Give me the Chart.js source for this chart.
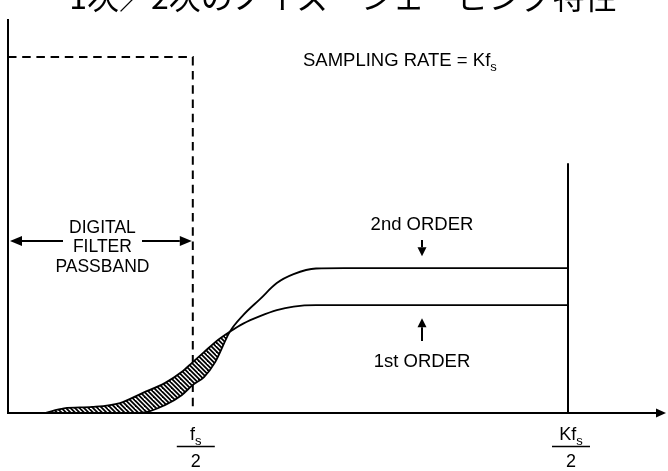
<!DOCTYPE html>
<html>
<head>
<meta charset="utf-8">
<script src="https://cdn.jsdelivr.net/npm/chart.js@4/dist/chart.umd.min.js"></script>
<style>
  html, body { margin: 0; padding: 0; background: #fff; }
  #wrap { width: 668px; height: 471px; }
</style>
</head>
<body>
<div id="wrap"><canvas id="c" width="668" height="471"></canvas></div>
<script>
// Frequency axis: 0 .. Kfs/2 mapped to 0 .. 100 (fs/2 sits at 33)
const freq        = [6.6, 10, 15, 20, 24, 28, 31, 33, 35, 37, 39.6, 42, 45, 48, 51, 55, 60, 100];
// Quantization noise spectral density of each modulator
const firstOrder  = [0, 1.3, 1.7, 2.8, 5.6, 8.4, 11.5, 14.3, 17.1, 19.9, 22.8, 25.1, 27.2, 28.9, 29.9, 30.3, 30.3, 30.3];
const secondOrder = [0, 0, 0, 0, 0.1, 2.2, 5.0, 7.9, 10.1, 14.3, 22.8, 27.5, 32.0, 36.5, 39.0, 40.6, 40.7, 40.7];
// Digital filter passband outline (dashed)
const passbandX = [0, 33, 33];
const passbandY = [100, 100, 0];
// Marker at Kfs/2
const halfRateX = [100, 100];
const halfRateY = [0, 70.2];
// Axis extents
const xMax = 117.5;
const yMax = 110.7;
// Frequency tick labels (fractions)
const tickValues = [33, 100];
const tickNumerators = ['f', 'Kf'];
const tickSubscript = 's';
const tickDenominator = '2';

const LATIN = '"Liberation Sans", Arial, Helvetica, sans-serif';

// diagonal "\" hatching, two stripes per 9px tile
function makeHatch() {
  const n = 9;
  const t = document.createElement('canvas');
  t.width = n; t.height = n;
  const g = t.getContext('2d');
  g.fillStyle = '#fff';
  g.fillRect(0, 0, n, n);
  g.strokeStyle = '#000';
  g.lineWidth = 1.75;
  for (let k = -2 * n; k <= 2 * n; k += n / 2) {
    g.beginPath();
    g.moveTo(k - 1, -1);
    g.lineTo(k + n + 1, n + 1);
    g.stroke();
  }
  return g.createPattern(t, 'repeat');
}

function pts(xs, ys) { return xs.map((x, i) => ({ x: x, y: ys[i] })); }

function arrow(ctx, x1, y1, x2, y2, len, half, lw) {
  const a = Math.atan2(y2 - y1, x2 - x1);
  const bx = x2 - len * Math.cos(a), by = y2 - len * Math.sin(a);
  ctx.beginPath();
  ctx.lineWidth = lw;
  ctx.moveTo(x1, y1);
  ctx.lineTo(bx, by);
  ctx.stroke();
  ctx.beginPath();
  ctx.moveTo(x2, y2);
  ctx.lineTo(bx + half * Math.sin(a), by - half * Math.cos(a));
  ctx.lineTo(bx - half * Math.sin(a), by + half * Math.cos(a));
  ctx.closePath();
  ctx.fill();
}

function textWithSub(ctx, main, sub, x, y, size, align) {
  ctx.font = size + 'px ' + LATIN;
  const wMain = ctx.measureText(main).width;
  ctx.font = Math.round(size * 0.7) + 'px ' + LATIN;
  const wSub = ctx.measureText(sub).width;
  const total = wMain + wSub;
  let left = x;
  if (align === 'center') left = x - total / 2;
  ctx.textAlign = 'left';
  ctx.textBaseline = 'alphabetic';
  ctx.font = size + 'px ' + LATIN;
  ctx.fillText(main, left, y);
  ctx.font = Math.round(size * 0.7) + 'px ' + LATIN;
  ctx.fillText(sub, left + wMain, y + size * 0.25);
}

const decor = {
  id: 'decor',
  afterDatasetsDraw(chart) {
    const { ctx } = chart;
    const xs = chart.scales.x, ys = chart.scales.y;
    const x0 = xs.getPixelForValue(0), y0 = ys.getPixelForValue(0);
    const top = ys.getPixelForValue(yMax);
    const right = xs.getPixelForValue(xMax);
    ctx.save();
    ctx.strokeStyle = '#000';
    ctx.fillStyle = '#000';
    ctx.lineCap = 'butt';

    // axes
    ctx.lineWidth = 2;
    ctx.beginPath();
    ctx.moveTo(x0, top);
    ctx.lineTo(x0, y0);
    ctx.stroke();
    arrow(ctx, x0 - 1, y0, right, y0, 10, 4.5, 2);

    // title
    ctx.font = '32px "Noto Sans CJK JP", sans-serif';
    ctx.textAlign = 'center';
    ctx.textBaseline = 'alphabetic';
    ctx.fillText('1次／2次のノイズ・シェーピング特性', 343, 9);

    // sampling rate note
    textWithSub(ctx, 'SAMPLING RATE = Kf', 's', 303, 66, 18.5, 'left');

    // passband label and arrows
    ctx.font = '17.5px ' + LATIN;
    ctx.textAlign = 'center';
    ctx.textBaseline = 'alphabetic';
    const pbx = (x0 + xs.getPixelForValue(passbandX[1])) / 2 + 2;
    ctx.fillText('DIGITAL', pbx, 232.5);
    ctx.fillText('FILTER', pbx, 252);
    ctx.fillText('PASSBAND', pbx, 271.5);
    arrow(ctx, 63, 241, x0 + 2, 241, 12, 5, 2);
    arrow(ctx, 142, 241, xs.getPixelForValue(passbandX[1]) - 1, 241, 12, 5, 2);

    // order labels
    const ox = 422;
    const y2 = ys.getPixelForValue(secondOrder[secondOrder.length - 1]);
    const y1 = ys.getPixelForValue(firstOrder[firstOrder.length - 1]);
    ctx.font = '18.5px ' + LATIN;
    ctx.textAlign = 'center';
    ctx.fillText('2nd ORDER', ox, 230);
    arrow(ctx, ox, 240, ox, y2 - 12, 9, 4.5, 2);
    ctx.fillText('1st ORDER', ox, 367);
    arrow(ctx, ox, 341, ox, y1 + 13, 9, 4.5, 2);

    // frequency tick fractions
    tickValues.forEach((v, i) => {
      const cx = xs.getPixelForValue(v) + 3;
      textWithSub(ctx, tickNumerators[i], tickSubscript, cx, 440, 18, 'center');
      ctx.lineWidth = 1.5;
      ctx.beginPath();
      ctx.moveTo(cx - 19, 446.5);
      ctx.lineTo(cx + 19, 446.5);
      ctx.stroke();
      ctx.font = '18px ' + LATIN;
      ctx.textAlign = 'center';
      ctx.fillText(tickDenominator, cx, 467);
    });
    ctx.restore();
  }
};

const hatch = makeHatch();

new Chart(document.getElementById('c'), {
  type: 'line',
  data: {
    datasets: [
      {
        label: '2nd ORDER',
        data: pts(freq, secondOrder),
        borderColor: '#000',
        borderWidth: 1.8,
        pointRadius: 0,
        cubicInterpolationMode: 'monotone',
        fill: false,
        clip: false
      },
      {
        label: '1st ORDER',
        data: pts(freq, firstOrder),
        borderColor: '#000',
        borderWidth: 1.8,
        pointRadius: 0,
        cubicInterpolationMode: 'monotone',
        fill: { target: 0, above: hatch, below: 'rgba(0,0,0,0)' },
        clip: false
      },
      {
        label: 'passband',
        data: pts(passbandX, passbandY),
        borderColor: '#000',
        borderWidth: 2,
        borderDash: [8.5, 5.7],
        pointRadius: 0,
        tension: 0,
        fill: false,
        clip: false
      },
      {
        label: 'Kfs/2',
        data: pts(halfRateX, halfRateY),
        borderColor: '#000',
        borderWidth: 2,
        pointRadius: 0,
        tension: 0,
        fill: false,
        clip: false
      }
    ]
  },
  options: {
    responsive: false,
    devicePixelRatio: 1,
    animation: false,
    events: [],
    layout: { padding: { left: 8, right: 2, top: 19, bottom: 58 } },
    scales: {
      x: { type: 'linear', min: 0, max: xMax, display: false },
      y: { type: 'linear', min: 0, max: yMax, display: false }
    },
    plugins: {
      legend: { display: false },
      tooltip: { enabled: false },
      title: { display: false }
    }
  },
  plugins: [decor]
});
</script>
</body>
</html>
